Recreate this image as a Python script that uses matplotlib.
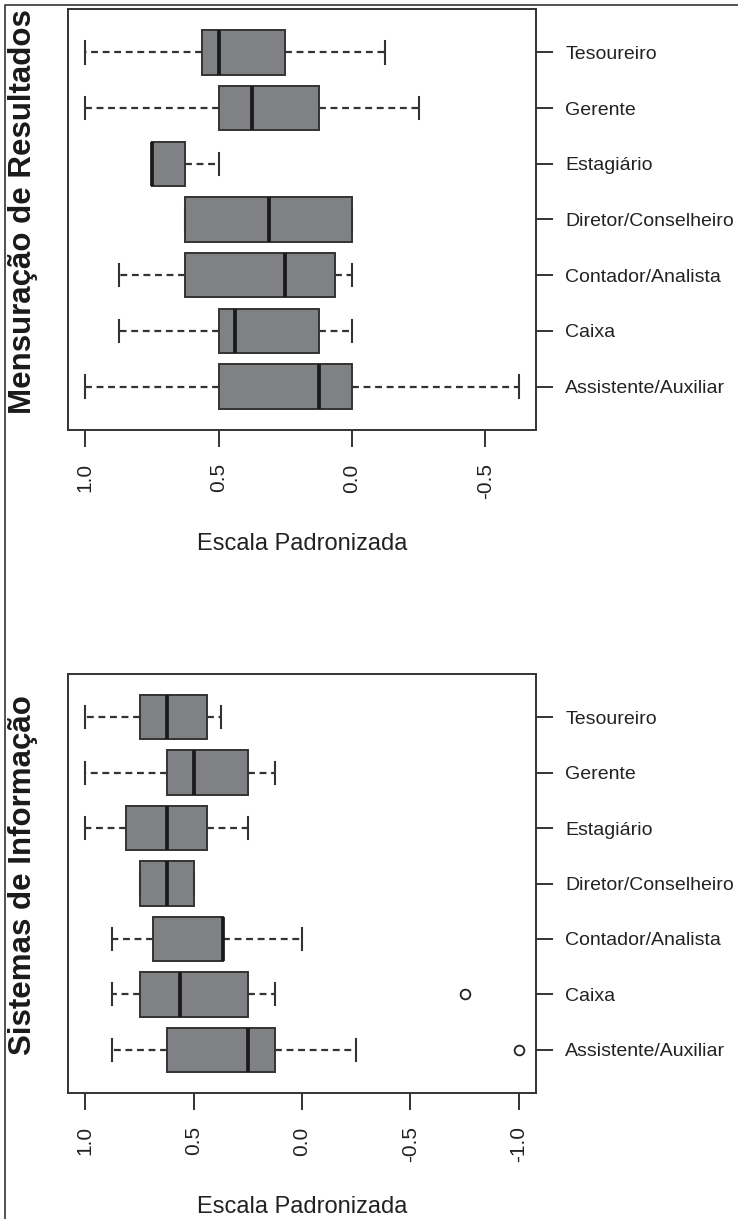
import matplotlib
matplotlib.use("Agg")
import matplotlib.pyplot as plt
from matplotlib.lines import Line2D

plt.rcParams['font.family'] = ['Liberation Sans', 'DejaVu Sans']

# categories from bottom (1) to top (7), as in the R boxplot
cargos = ["Assistente/Auxiliar", "Caixa", "Contador/Analista",
          "Diretor/Conselheiro", "Estagiário", "Gerente", "Tesoureiro"]

# Mensuração de Resultados: min, q1, median, q3, max
mr_min = [-0.625, 0.0, 0.0, 0.0, 0.5, -0.25, -0.125]
mr_q1 = [0.0, 0.125, 0.0625, 0.0, 0.625, 0.125, 0.25]
mr_med = [0.125, 0.4375, 0.25, 0.3125, 0.75, 0.375, 0.5]
mr_q3 = [0.5, 0.5, 0.625, 0.625, 0.75, 0.5, 0.5625]
mr_max = [1.0, 0.875, 0.875, 0.625, 0.75, 1.0, 1.0]
mr_out = [[], [], [], [], [], [], []]

# Sistemas de Informação
si_min = [-0.25, 0.125, 0.0, 0.5, 0.25, 0.125, 0.375]
si_q1 = [0.125, 0.25, 0.365, 0.5, 0.4375, 0.25, 0.4375]
si_med = [0.25, 0.5625, 0.365, 0.625, 0.625, 0.5, 0.625]
si_q3 = [0.625, 0.75, 0.6875, 0.75, 0.8125, 0.625, 0.75]
si_max = [0.875, 0.875, 0.875, 0.75, 1.0, 1.0, 1.0]
si_out = [[-1.0], [-0.75], [], [], [], [], []]

mr_ticks = [1.0, 0.5, 0.0, -0.5]
si_ticks = [1.0, 0.5, 0.0, -0.5, -1.0]

W, H = 738, 1219
dark = '#333333'


def draw_panel(ax, mins, q1s, meds, q3s, maxs, outs, ticks, xlim, ylabel):
    stats = []
    for i in range(len(cargos)):
        stats.append(dict(whislo=mins[i], q1=q1s[i], med=meds[i],
                          q3=q3s[i], whishi=maxs[i], fliers=outs[i]))
    pos = list(range(1, len(cargos) + 1))
    ax.bxp(stats, positions=pos, widths=0.8, orientation='horizontal',
           patch_artist=True,
           boxprops=dict(facecolor='#808184', edgecolor=dark, linewidth=1.4),
           medianprops=dict(color='#1a1a1a', linewidth=2.7, solid_capstyle='butt'),
           whiskerprops=dict(color=dark, linewidth=1.6, linestyle=(0, (3.1, 2.1))),
           capprops=dict(color=dark, linewidth=1.5),
           flierprops=dict(marker='o', markerfacecolor='none',
                           markeredgecolor='#222222', markersize=7,
                           markeredgewidth=1.3))
    ax.set_xlim(*xlim)
    ax.set_ylim(0.22, 7.78)
    ax.yaxis.tick_right()
    ax.set_yticks(pos, cargos)
    ax.set_xticks(ticks, [f"{t:.1f}" for t in ticks])
    ax.tick_params(axis='x', labelrotation=90, length=12, width=1.4,
                   color=dark, pad=12, labelsize=15, labelcolor='#222222')
    ax.tick_params(axis='y', length=12, width=1.4, color=dark, pad=9,
                   labelsize=14, labelcolor='#222222')
    for s in ax.spines.values():
        s.set_color(dark)
        s.set_linewidth(1.4)
    ax.set_xlabel("Escala Padronizada", fontsize=17, color='#222222', va='center')
    ax.xaxis.set_label_coords(0.5, -0.271)
    ax.set_ylabel(ylabel, fontsize=22.5, fontweight='bold', color='#1a1a1a',
                  va='center')


fig = plt.figure(figsize=(W / 100, H / 100), dpi=100)

ax1 = fig.add_axes([68 / W, 1 - 430 / H, 468 / W, 421 / H])
draw_panel(ax1, mr_min, mr_q1, mr_med, mr_q3, mr_max, mr_out, mr_ticks,
           (1.065, -0.69), "Mensuração de Resultados")
ax1.yaxis.set_label_coords((23 - 68) / 468, (430 - 212) / 421)

ax2 = fig.add_axes([68 / W, 1 - 1093 / H, 468 / W, 419 / H])
draw_panel(ax2, si_min, si_q1, si_med, si_q3, si_max, si_out, si_ticks,
           (1.08, -1.08), "Sistemas de Informação")
ax2.yaxis.set_label_coords((23 - 68) / 468, (1093 - 875) / 419)

# outer frame of the original page (cropped on the right and bottom)
fig.add_artist(Line2D([5 / W, 5 / W, 1.01], [-0.01, 1 - 5 / H, 1 - 5 / H],
                      transform=fig.transFigure, color='#444444', linewidth=1.3))

fig.savefig("out.png", dpi=100)
